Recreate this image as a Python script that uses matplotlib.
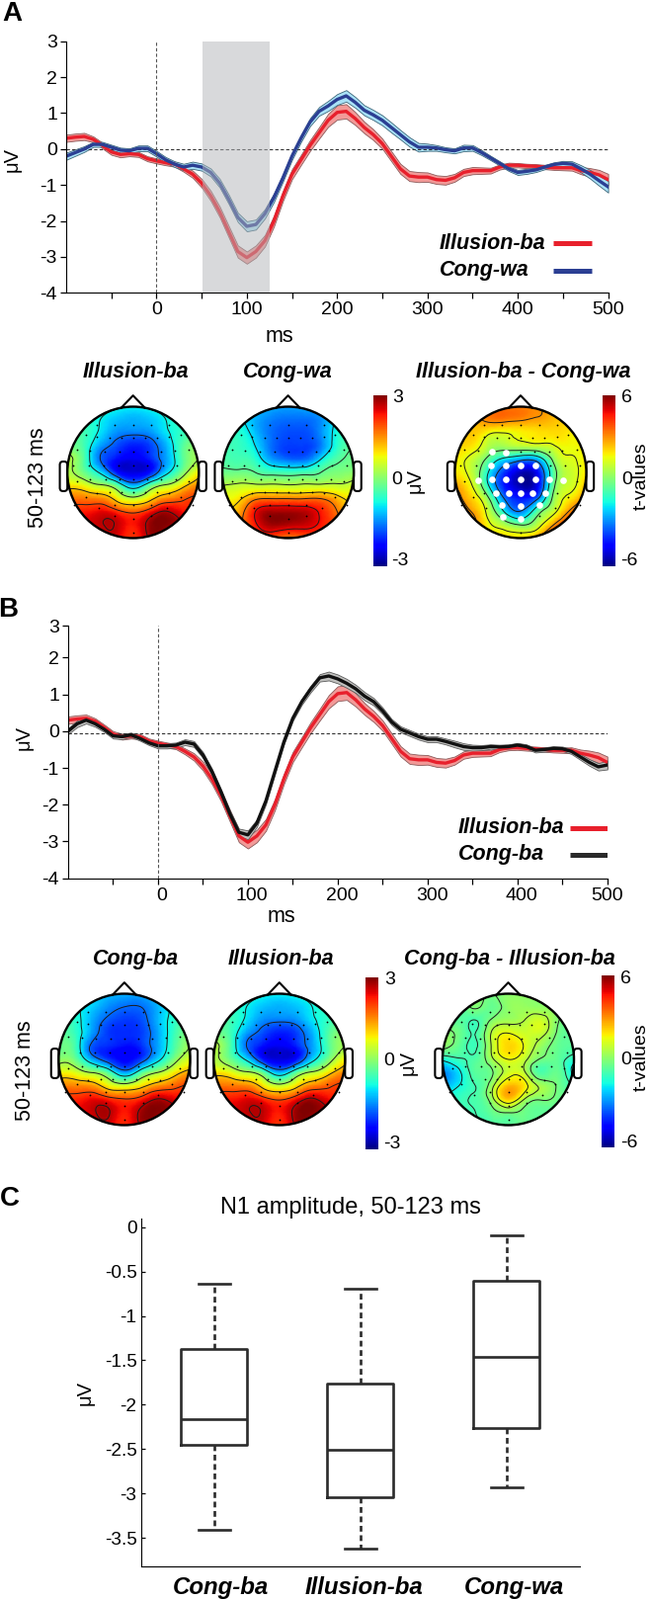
import numpy as np
import matplotlib
matplotlib.use("Agg")
import matplotlib.pyplot as plt
from matplotlib.cm import ScalarMappable
from matplotlib.colors import Normalize
from matplotlib.patches import Circle, FancyBboxPatch
from matplotlib.transforms import ScaledTranslation
from matplotlib.tri import Triangulation, UniformTriRefiner

plt.rcParams['font.family'] = ['Liberation Sans', 'DejaVu Sans']

W, H = 658, 1619

# ---- ERP curves, read every 10 ms
TIME_MS = list(range(-100, 501, 10))

ILLUSION_BA = [.3, .33, .35, .27, .1, -.08, -.15, -.13, -.15, -.27,
               -.33, -.38, -.42, -.55, -.7, -.95, -1.3, -1.75, -2.3, -2.85,
               -3.02, -2.85, -2.55, -2.0, -1.3, -.7, -.3, .1, .45, .8,
               1.02, 1.05, .85, .6, .4, .15, -.2, -.55, -.75, -.78,
               -.78, -.85, -.87, -.8, -.65, -.6, -.6, -.6, -.5, -.45,
               -.45, -.47, -.48, -.5, -.52, -.52, -.52, -.6, -.65, -.72, -.85]
ILLUSION_BA_SEM = [.1, .1, .1, .08, .08, .08, .08, .07, .07, .07,
                   .07, .07, .07, .08, .1, .12, .14, .15, .16, .17,
                   .17, .17, .16, .15, .14, .14, .14, .15, .16, .18,
                   .2, .2, .18, .16, .15, .14, .14, .14, .14, .14,
                   .13, .12, .12, .11, .1, .1, .09, .08, .07, .07,
                   .06, .06, .06, .06, .06, .07, .08, .1, .12, .14, .16]

CONG_WA = [-.2, -.1, 0, .13, .13, .05, -.03, -.05, .02, .02,
           -.13, -.3, -.42, -.5, -.45, -.5, -.65, -.95, -1.4, -1.9,
           -2.15, -2.1, -1.8, -1.35, -.8, -.2, .3, .75, 1.05, 1.2,
           1.38, 1.48, 1.3, 1.08, .95, .8, .6, .4, .2, .05,
           .05, .03, -.02, -.05, .03, .03, -.1, -.25, -.4, -.55,
           -.65, -.62, -.58, -.5, -.43, -.4, -.42, -.55, -.7, -.88, -1.05]
CONG_WA_SEM = [.1, .09, .08, .07, .07, .07, .07, .07, .08, .08,
               .08, .08, .08, .09, .1, .1, .11, .12, .13, .13,
               .14, .14, .13, .12, .1, .1, .1, .11, .12, .14,
               .15, .16, .15, .14, .14, .14, .14, .13, .13, .12,
               .1, .08, .07, .07, .09, .08, .07, .06, .06, .06,
               .07, .07, .06, .06, .06, .07, .08, .1, .12, .14, .16]

CONG_BA = [0, .2, .3, .2, .05, -.13, -.15, -.1, -.2, -.32,
           -.4, -.4, -.38, -.3, -.35, -.65, -1.1, -1.65, -2.25, -2.75,
           -2.82, -2.5, -1.9, -1.1, -.3, .35, .8, 1.15, 1.45, 1.5,
           1.42, 1.3, 1.15, .95, .8, .55, .25, .05, -.05, -.15,
           -.22, -.22, -.28, -.35, -.42, -.45, -.45, -.42, -.43, -.42,
           -.38, -.42, -.52, -.5, -.47, -.48, -.55, -.7, -.85, -.97, -.92]
CONG_BA_SEM = [.08, .09, .09, .08, .07, .07, .07, .06, .06, .06,
               .07, .07, .07, .08, .08, .08, .08, .08, .09, .1,
               .12, .1, .09, .08, .07, .07, .08, .09, .1, .12,
               .12, .12, .11, .11, .1, .09, .08, .08, .08, .08,
               .08, .08, .08, .09, .09, .08, .07, .06, .06, .06,
               .06, .06, .06, .06, .06, .06, .07, .08, .09, .1, .12]

# ---- scalp maps, values on a coarse grid over the head, top row first
GRID_X = [-1, -.75, -.5, -.25, 0, .25, .5, .75, 1]
GRID_Y = [1, .8, .6, .4, .2, 0, -.2, -.4, -.6, -.8, -1]

MAP_ILLUSION_BA = [
    [-.3, -.4, -.5, -.7, -.8, -.7, -.5, -.4, -.3],
    [-.3, -.5, -.8, -1.1, -1.2, -1.1, -.8, -.5, -.3],
    [-.2, -.4, -.9, -1.4, -1.5, -1.4, -.9, -.5, -.2],
    [-.1, -.4, -1.3, -1.8, -2.1, -1.9, -1.2, -.3, .2],
    [.5, -.3, -1.6, -2.2, -2.4, -2.1, -1.3, -.3, .3],
    [.4, -.1, -.9, -2.1, -2.5, -2.2, -1.0, .0, .9],
    [1.0, .8, .4, -.2, -1.2, -.3, .4, 1.0, 1.6],
    [1.7, 1.7, 1.6, 1.0, .5, 1.0, 1.6, 1.9, 2.1],
    [2.3, 2.3, 2.45, 2.2, 1.9, 2.3, 2.75, 2.4, 2.2],
    [2.4, 2.5, 2.65, 2.65, 2.3, 2.85, 2.95, 2.75, 2.4],
    [2.3, 2.4, 2.5, 2.5, 2.1, 2.75, 2.85, 2.6, 2.3]]
MAP_CONG_WA = [
    [-.7, -.8, -1, -1.2, -1.3, -1.2, -1, -.8, -.7],
    [-.7, -.8, -1.2, -1.5, -1.6, -1.6, -1.4, -.8, -.5],
    [-.5, -.6, -1.1, -1.6, -1.8, -1.8, -1.4, -.7, -.4],
    [-.4, -.5, -.9, -1.6, -1.9, -1.9, -1.5, -.6, -.2],
    [-.3, -.4, -.6, -1.3, -1.6, -1.6, -.9, -.3, -.1],
    [-.1, -.1, -.2, -.4, -.45, -.4, -.2, .0, .1],
    [.4, .5, .5, .5, .45, .5, .5, .5, .6],
    [.9, 1.0, 1.6, 1.7, 1.7, 1.7, 1.7, 1.3, .9],
    [1, 1.4, 2.4, 2.8, 2.8, 2.7, 2.3, 1.7, 1],
    [1, 1.5, 2.3, 2.8, 2.7, 2.6, 2.3, 1.8, 1.1],
    [1, 1.3, 1.9, 1.9, 1.6, 1.8, 1.9, 1.5, 1]]
MAP_CONG_BA = [
    [-.5, -.6, -.8, -1.1, -1.2, -1.2, -.9, -.6, -.5],
    [-.4, -.7, -1, -1.4, -1.6, -1.6, -1.2, -.7, -.4],
    [-.3, -.6, -1.2, -1.7, -1.9, -1.8, -1.2, -.6, -.2],
    [-.2, -.5, -1.3, -1.9, -2.0, -1.9, -1.3, -.5, .1],
    [-.2, -.4, -1.7, -2.0, -2.2, -2.0, -1.3, -.4, .3],
    [.1, -.1, -1.2, -1.9, -2.3, -1.9, -1.0, .0, .7],
    [.8, .7, .3, -.3, -1.3, -.4, .3, .9, 1.4],
    [1.6, 1.6, 1.5, .9, .6, 1.0, 1.5, 1.8, 2.1],
    [2.1, 2.2, 2.4, 2.2, 2.0, 2.2, 2.7, 2.5, 2.2],
    [2.3, 2.4, 2.6, 2.75, 2.3, 2.8, 2.95, 2.8, 2.4],
    [2.2, 2.3, 2.5, 2.5, 2.2, 2.75, 2.85, 2.6, 2.2]]
MAP_T_A = [
    [2.5, 2.8, 3.1, 3.3, 3.3, 3.0, 2.8, 2.6, 2.5],
    [2.4, 2.6, 3.2, 3.3, 3.1, 2.85, 2.5, 2.3, 2.3],
    [2.2, 2.4, 1.7, 1.5, 1.8, 2.0, 2.1, 1.9, 2.0],
    [2.2, 2.0, .9, .6, .9, 1.1, 1.4, 1.7, 1.9],
    [2.0, 1.2, -.3, -1.8, -2.6, -2.4, .3, 1.4, 2.0],
    [2.0, 1.1, -1.4, -3.8, -5.3, -4.6, -.6, 1.1, 2.0],
    [2.9, 1.6, -1.3, -4.2, -5.5, -4.8, -.3, 1.2, 2.6],
    [3.6, 2.3, .3, -3.0, -4.2, -3.2, .3, 1.9, 3.5],
    [4, 3.0, 1.2, -1.5, -2.9, -.6, 1.2, 3.2, 5],
    [4, 3.5, 1.8, .8, 0, .9, 3, 4.6, 5],
    [3, 2.8, 2.2, 2.2, 2.1, 3.0, 4.5, 5, 5]]
MAP_T_B = [
    [-.3, -.3, -.2, .0, .2, .3, .3, .2, .1],
    [-.8, -.5, .1, -.3, .3, .4, .3, .2, .0],
    [-1.0, -.5, -.8, .1, .5, .8, 1.2, .1, -.2],
    [.3, -.2, -.8, .9, 1.6, 1.2, 1.1, -.1, -.4],
    [.3, -.4, -.9, .9, 2.2, 1.5, .4, -.3, -.5],
    [-1.4, -.9, -.6, .6, 1.6, 1.0, -.1, -.4, -1.2],
    [-3.0, -1.8, -.5, -.1, 1.2, .9, -.7, -.3, -2.0],
    [-2.6, -1.6, -.8, .5, 2.5, 1.9, .6, -.1, -.8],
    [-1.5, -1.0, -.7, .5, 2.4, .8, .1, -.2, -.6],
    [-1, -1, -.8, -.3, .1, -.2, -.4, -.5, -.7],
    [-1, -1, -.8, -.6, -.4, -.2, -.2, -.5, -.7]]

LEVELS_UV = [-1.6, -.8, .3, 1.2, 2.0, 2.7]
LEVELS_CONG_WA = [-.9, -.2, .4, 1.1, 1.7, 2.4]
LEVELS_T_A = [-3, -1.5, 0, 1.5, 3, 4.5]
LEVELS_T_B = [-1.6, -.8, 0, .8, 1.6]

# electrode positions on the head, head radius = 1
ELEC_X = [-.55, -.28, 0, .28, .55,
          -.72, -.55, -.36, -.18, 0, .18, .36, .55, .72,
          -.85, -.65, -.43, -.21, 0, .21, .43, .63, .85,
          -.91, -.67, -.45, -.22, 0, .22, .45, .67, .9,
          -.85, -.65, -.42, -.21, 0, .21, .43, .65, .85,
          -.72, -.55, -.36, -.18, 0, .18, .36, .55, .72,
          -.9, -.52, -.28, 0, .28, .52, .9,
          -.28, 0, .28, 0]
ELEC_Y = [.72, .72, .72, .72, .72,
          .57, .54, .52, .52, .52, .52, .52, .54, .57,
          .35, .33, .31, .31, .31, .31, .31, .33, .35,
          .11, .11, .11, .11, .11, .11, .11, .11, .11,
          -.14, -.11, -.1, -.1, -.1, -.1, -.1, -.11, -.14,
          -.37, -.32, -.3, -.3, -.3, -.3, -.3, -.32, -.37,
          -.49, -.54, -.5, -.5, -.5, -.54, -.49,
          -.66, -.7, -.66, -.91]
SIG_X = [-.43, -.22, -.45, -.23, 0, .23, -.65, -.43, -.22, 0, .22, .43, .65,
         -.37, -.18, 0, .18, .38, -.28, 0, .29, -.27, 0]
SIG_Y = [.31, .3, .1, .1, .1, .1, -.12, -.11, -.1, -.1, -.1, -.11, -.12,
         -.31, -.31, -.31, -.31, -.31, -.5, -.51, -.5, -.67, -.71]

# ---- boxplot, whisker caps and box edges
BOX_LABELS = ['Cong-ba', 'Illusion-ba', 'Cong-wa']
BOX_WHISLO = [-3.41, -3.625, -2.93]
BOX_Q1 = [-2.45, -3.04, -2.265]
BOX_MED = [-2.16, -2.51, -1.46]
BOX_Q3 = [-1.378, -1.76, -.60]
BOX_WHISHI = [-.636, -.69, -.09]

RED = '#e8202c'
RED_BAND = '#f29a98'
BLUE = '#2b3f93'
BLUE_BAND = '#a9e2f7'
BLACK = '#111111'
BLACK_BAND = '#c2c2c0'

fig = plt.figure(figsize=(W / 100, H / 100), dpi=100)


def px_axes(left, top, right, bottom):
    return fig.add_axes([left / W, 1 - bottom / H, (right - left) / W, (bottom - top) / H])


def label(x, y, s, size=14, **kw):
    kw.setdefault('ha', 'center')
    fig.text(x / W, 1 - y / H, s, fontsize=size, va='center', **kw)


def erp_axes(left, top, right, bottom, xmin, yticks, yticklabels, ylim):
    ax = px_axes(left, top, right, bottom)
    ax.set_xlim(xmin, 500)
    ax.set_ylim(*ylim)
    for side in ['top', 'right']:
        ax.spines[side].set_visible(False)
    ax.set_xticks(list(range(-50, 501, 50)))
    ax.set_xticklabels(['' if t % 100 else str(t) for t in range(-50, 501, 50)])
    ax.set_yticks(yticks)
    ax.set_yticklabels(yticklabels)
    ax.tick_params(length=4.5, width=.9, labelsize=14, pad=2)
    return ax


def curve(ax, y, sem, color, band, edge):
    y = np.array(y)
    sem = np.array(sem)
    ax.fill_between(TIME_MS, y - sem, y + sem, facecolor=band, edgecolor=edge, linewidth=.6)
    ax.plot(TIME_MS, y, color=color, linewidth=2.4)


def head(cx, cy, values, vmax, levels, sig=False):
    r = 66.5
    ax = px_axes(cx - 1.3 * r, cy - 1.3 * r, cx + 1.3 * r, cy + 1.3 * r)
    ax.set_xlim(-1.3, 1.3)
    ax.set_ylim(-1.3, 1.3)
    ax.axis('off')
    for ex in [-1.115, 1.0]:
        ax.add_patch(FancyBboxPatch((ex, -.285), .115, .45, boxstyle='round,pad=0,rounding_size=.05',
                                    facecolor='white', edgecolor='black', linewidth=1.5))
    ax.plot([-.178, 0, .178], [.985, 1.17, .985], color='black', linewidth=1.5)

    gx, gy = np.meshgrid(GRID_X, GRID_Y)
    coarse = Triangulation(gx.ravel(), gy.ravel())
    fine, z = UniformTriRefiner(coarse).refine_field(np.array(values, dtype=float).ravel(), subdiv=3)
    clip = Circle((0, 0), 1, facecolor='none', edgecolor='black', linewidth=1.7, zorder=5)
    ax.add_patch(clip)
    pc = ax.tripcolor(fine, z, shading='gouraud', cmap='jet', vmin=-vmax, vmax=vmax)
    pc.set_clip_path(clip)
    cs = ax.tricontour(fine, z, levels=levels, colors='#1c1c1c', linewidths=.7, linestyles='solid')
    cs.set_clip_path(clip)
    ax.scatter(ELEC_X, ELEC_Y, s=1.6, color='black', linewidths=0, zorder=3)
    if sig:
        ax.scatter(SIG_X, SIG_Y, s=23, color='white', linewidths=0, zorder=4)


def cbar(left, top, right, bottom, vmax):
    cax = px_axes(left, top, right, bottom)
    cb = fig.colorbar(ScalarMappable(Normalize(-vmax, vmax), 'jet'), cax=cax)
    cb.set_ticks([])
    cb.outline.set_visible(False)


# ---- panel A
ax = erp_axes(67, 41.7, 615.6, 296.3, -100, [-4, -3, -2, -1, 0, 1, 2, 3],
              ['-4', '-3', '-2', '-1', '0', '1', '2', '3'], (-4, 3))
curve(ax, ILLUSION_BA, ILLUSION_BA_SEM, RED, RED_BAND, '#8a5a5a')
curve(ax, CONG_WA, CONG_WA_SEM, BLUE, BLUE_BAND, '#3b6478')
ax.axhline(0, color='#333333', linewidth=.8, linestyle=(0, (3, 2)), zorder=1.5)
ax.axvline(0, color='#555555', linewidth=.8, linestyle=(0, (3, 2)))
ax.axvspan(51, 125, facecolor='#b3b5b9', alpha=.5, linewidth=0, zorder=4)
ax.plot([439, 482], [-2.63, -2.63], color=RED, linewidth=3.6, solid_capstyle='butt')
ax.plot([439, 482], [-3.4, -3.4], color=BLUE, linewidth=3.6, solid_capstyle='butt')
label(445, 246.7, 'Illusion-ba', 15.5, ha='left', weight='bold', style='italic')
label(445, 273, 'Cong-wa', 15.5, ha='left', weight='bold', style='italic')
label(283, 340, 'ms', 15.5)
label(12.6, 162, 'μV', 14.5, rotation=90)

label(137.6, 376, 'Illusion-ba', 15.5, weight='bold', style='italic')
label(291, 376, 'Cong-wa', 15.5, weight='bold', style='italic')
label(529.6, 376, 'Illusion-ba - Cong-wa', 15.5, weight='bold', style='italic')
label(38.6, 483, '50-123 ms', 15.5, rotation=90)
head(134.7, 478, MAP_ILLUSION_BA, 3, LEVELS_UV)
head(291.6, 478, MAP_CONG_WA, 3, LEVELS_CONG_WA)
head(527, 478, MAP_T_A, 6, LEVELS_T_A, sig=True)
cbar(378, 400, 391.5, 573, 3)
cbar(609.7, 400, 623.2, 573, 6)
label(403, 402.7, '3')
label(402, 485, '0')
label(405, 568, '-3')
label(420, 486.7, 'μV', 14.5, rotation=90)
label(634.5, 402.7, '6')
label(634.5, 485, '0')
label(637, 568, '-6')
label(649, 481.7, 't-values', rotation=90)

# ---- panel B
ax = erp_axes(69, 633, 614.8, 888.7, -100, [-4, -3, -2, -1, 0, 1, 2, 2.87],
              ['-4', '-3', '-2', '-1', '0', '1', '2', '3'], (-4, 2.87))
curve(ax, ILLUSION_BA, ILLUSION_BA_SEM, RED, RED_BAND, '#8a5a5a')
curve(ax, CONG_BA, CONG_BA_SEM, BLACK, BLACK_BAND, '#5a5a5a')
ax.axhline(-.07, color='#333333', linewidth=.8, linestyle=(0, (3, 2)), zorder=1.5)
ax.axvline(0, color='#555555', linewidth=.8, linestyle=(0, (3, 2)))
ax.plot([458, 500], [-2.63, -2.63], color=RED, linewidth=3.6, solid_capstyle='butt')
ax.plot([458, 500], [-3.37, -3.37], color='#2a2a2a', linewidth=3.6, solid_capstyle='butt')
# tick labels sit a little right of their ticks in this panel
shift = ScaledTranslation(3 / 72, 0, fig.dpi_scale_trans)
for lab in ax.get_xticklabels()[:-1]:
    lab.set_transform(lab.get_transform() + shift)
label(464, 837.7, 'Illusion-ba', 15.5, ha='left', weight='bold', style='italic')
label(464, 864, 'Cong-ba', 15.5, ha='left', weight='bold', style='italic')
label(285, 927, 'ms', 15.5)
label(24.3, 746, 'μV', 14.5, rotation=90)

label(137.6, 970, 'Cong-ba', 15.5, weight='bold', style='italic')
label(284.5, 970, 'Illusion-ba', 15.5, weight='bold', style='italic')
label(516, 970, 'Cong-ba - Illusion-ba', 15.5, weight='bold', style='italic')
label(26, 1083, '50-123 ms', 15.5, rotation=90)
head(125.9, 1072, MAP_CONG_BA, 3, LEVELS_UV)
head(282.8, 1072, MAP_ILLUSION_BA, 3, LEVELS_UV)
head(514.5, 1072, MAP_T_B, 6, LEVELS_T_B)
cbar(369.7, 989.3, 383, 1162.7, 3)
cbar(609, 987.3, 622.3, 1161, 6)
label(394.5, 991.7, '3')
label(394, 1074, '0')
label(397, 1158, '-3')
label(413, 1075, 'μV', 14.5, rotation=90)
label(633.7, 990, '6')
label(633.7, 1072.7, '0')
label(636.6, 1156.7, '-6')
label(649, 1070, 't-values', rotation=90)

# ---- panel C
ax = px_axes(142.7, 1233, 586.7, 1584.7)
stats = [{'whislo': BOX_WHISLO[i], 'q1': BOX_Q1[i], 'med': BOX_MED[i], 'q3': BOX_Q3[i],
          'whishi': BOX_WHISHI[i], 'fliers': []} for i in range(3)]
line = {'color': '#2b2b2b', 'linewidth': 1.9}
ax.bxp(stats, positions=[1, 2, 3], widths=.453, capwidths=.216, showfliers=False,
       boxprops=line, medianprops=line, capprops=line,
       whiskerprops={'color': '#2b2b2b', 'linewidth': 1.9, 'linestyle': (0, (2.2, 1.4))})
ax.set_xlim(.5, 3.5)
ax.set_ylim(-3.817, .096)
for side in ['top', 'right']:
    ax.spines[side].set_visible(False)
ax.set_xticks([])
ax.set_yticks([0, -.5, -1, -1.5, -2, -2.5, -3, -3.5])
ax.set_yticklabels(['0', '-0.5', '-1', '-1.5', '-2', '-2.5', '-3', '-3.5'])
ax.tick_params(axis='y', direction='in', length=3, width=.9, labelsize=13.7, pad=3)
label(354.6, 1222, 'N1 amplitude, 50-123 ms', 17)
label(86, 1410, 'μV', 14.5, rotation=90)
label(223.7, 1606, BOX_LABELS[0], 17.3, weight='bold', style='italic')
label(368.4, 1606, BOX_LABELS[1], 17.3, weight='bold', style='italic')
label(520, 1606, BOX_LABELS[2], 17.3, weight='bold', style='italic')

label(12, 14, 'A', 20, weight='bold')
label(8, 617, 'B', 20, weight='bold')
label(10, 1213, 'C', 20, weight='bold')

fig.savefig('out.png', dpi=100)
